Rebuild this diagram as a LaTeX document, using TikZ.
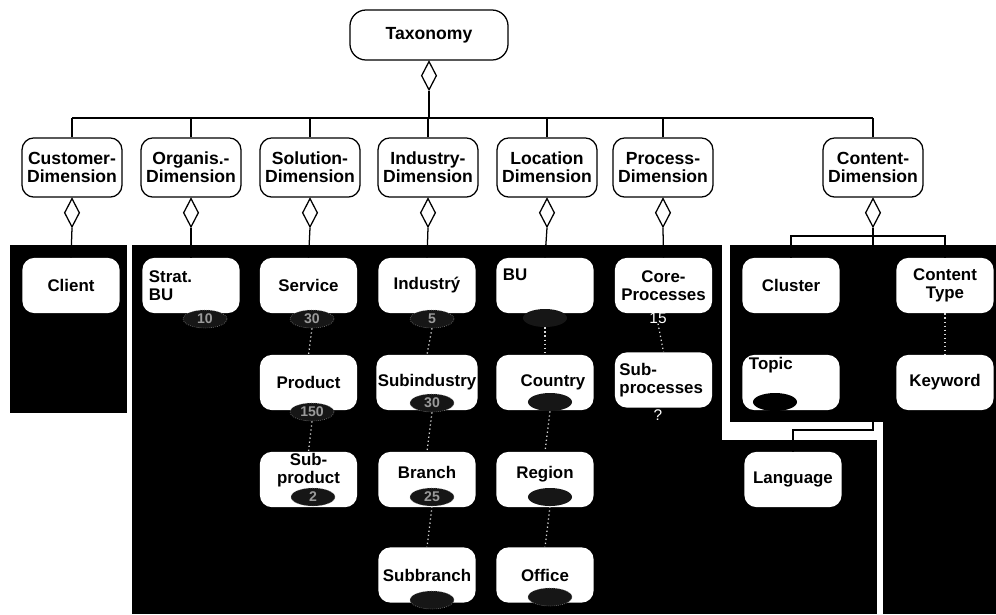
\documentclass[tikz,border=0pt]{standalone}
\usepackage{fontspec}
\setmainfont{Liberation Sans}
\usepackage{tikz}
\usetikzlibrary{shapes.geometric, positioning}
\definecolor{panelfill}{HTML}{000000}
\definecolor{cntfill}{HTML}{161616}
\definecolor{cnttext}{HTML}{9A9A9A}

\tikzset{
  dimbox/.style={draw, line width=0.9pt, rounded corners=0.3cm, fill=white,
    minimum width=2.5cm, minimum height=1.48cm, align=center, inner sep=1pt,
    font=\bfseries\fontsize{12.5}{13}\selectfont},
  catbox/.style={fill=white, rounded corners=0.3cm,
    minimum width=2.43cm, minimum height=1.38cm, align=center, inner sep=1pt,
    font=\bfseries\fontsize{12}{13}\selectfont},
  agg/.style={diamond, draw, fill=white, line width=0.9pt, inner sep=0pt,
    minimum width=0.38cm, minimum height=0.72cm},
  cnt/.style={ellipse, fill=cntfill, draw=cnttext, densely dotted, inner sep=0pt,
    minimum width=1.1cm, minimum height=0.45cm, text=cnttext,
    font=\bfseries\fontsize{10}{10}\selectfont},
  cntplain/.style={text=white, inner sep=0pt, font=\fontsize{11}{11}\selectfont},
  rel/.style={line width=0.9pt},
  hint/.style={draw=gray!30, dotted, line width=0.9pt},
}

\begin{document}
\begin{tikzpicture}[x=0.025cm, y=-0.025cm]
\useasboundingbox (0,0) rectangle (996,614);
%% panels behind the category boxes
\fill[panelfill] (10,245) rectangle (127,413);
\fill[panelfill] (132,245) rectangle (722,614);
\fill[panelfill] (722,440) rectangle (877,614);
\fill[panelfill] (730,245) rectangle (996,422);
\fill[panelfill] (883,422) rectangle (996,614);
\coordinate (ptop) at (0,245);

%% root
\node[dimbox, minimum width=3.95cm, minimum height=1.25cm, rounded corners=0.4cm] (tax) at (429,35) {Taxonomy};
\node[agg, below=0pt of tax] (tax-d) {};
\coordinate (bar) at (429,118);
\draw[rel] (tax-d.south) -- (bar);

%% dimensions
\foreach \nm/\xc/\lbl in {cus/72/Customer-\\Dimension, org/191/Organis.-\\Dimension,
    sol/310/Solution-\\Dimension, ind/428/Industry-\\Dimension,
    loc/547/Location\\Dimension, pro/663/Process-\\Dimension, con/873/Content-\\Dimension}{
  \node[dimbox] (\nm) at (\xc,167.5) {\lbl};
  \node[agg, below=0pt of \nm] (\nm-d) {};
  \draw[rel] (\nm.north) -- (\nm.north |- bar);
}
\draw[rel] (cus.north |- bar) -- (con.north |- bar);

%% customer / organisation
\node[catbox] (cli) at (71,285.5) {Client};
\node[catbox, align=left, text width=2.1cm] (sbu) at (191,285.5) {Strat.\\BU};
\node[cnt] (sbu-n) at (205,319) {10};
\draw[rel] (cus-d.south) -- (cli.north);
\draw[rel] (org-d.south) -- (sbu.north);

%% solution
\node[catbox] (srv) at (308.5,285.5) {Service};
\node[catbox] (prd) at (308.5,382.5) {Product};
\node[catbox, text depth=0.55cm] (sub) at (308.5,479.5) {Sub-\\product};
\node[cnt] (srv-n) at (312,319) {30};
\node[cnt] (prd-n) at (312,412) {150};
\node[cnt] (sub-n) at (313,497) {2};
\draw[rel] (sol-d.south) -- (srv.north);
\draw[hint] (srv-n.south) -- (prd.north);
\draw[hint] (prd-n.south) -- (sub.north);

%% industry
\node[catbox] (inm) at (427,285.5) {Industrý};
\node[catbox] (sin) at (427,382.5) {Subindustry};
\node[catbox, text depth=0.35cm] (brc) at (427,479.5) {Branch};
\node[catbox] (sbr) at (427,575) {Subbranch};
\node[cnt] (inm-n) at (432,319) {5};
\node[cnt] (sin-n) at (432,403) {30};
\node[cnt] (brc-n) at (432,497) {25};
\node[cnt] (sbr-n) at (432,600) {};
\draw[rel] (ind-d.south) -- (inm.north);
\draw[hint] (inm-n.south) -- (sin.north);
\draw[hint] (sin-n.south) -- (brc.north);
\draw[hint] (brc-n.south) -- (sbr.north);

%% location
\node[catbox, align=left, text width=2.1cm, text depth=0.55cm] (lbu) at (545,285.5) {BU};
\node[catbox] (cty) at (545,382.5) {\hspace*{0.4cm}Country};
\node[catbox, text depth=0.35cm] (rgn) at (545,479.5) {Region};
\node[catbox] (ofc) at (545,575) {Office};
\node[cnt, draw=none] (lbu-n) at (545,318) {};
\node[cnt, draw=none] (cty-n) at (550,402) {};
\node[cnt, draw=none] (rgn-n) at (550,497) {};
\node[cnt] (ofc-n) at (550,597) {};
\draw[rel] (loc-d.south) -- (lbu.north);
\draw[hint] (lbu-n.south) -- (cty.north);
\draw[hint] (cty-n.south) -- (rgn.north);
\draw[hint] (rgn-n.south) -- (ofc.north);

%% process
\node[catbox] (cpr) at (663.5,285.5) {Core-\\Processes};
\node[catbox, align=left, text width=2.2cm] (spr) at (663.5,380) {Sub-\\processes};
\node[cntplain] (cpr-n) at (658,318) {15};
\node[cntplain] (spr-n) at (658,415) {?};
\draw[rel] (pro-d.south) -- (cpr.north);
\draw[hint] (cpr-n.south) -- (spr.north);

%% content
\node[catbox] (clu) at (791,285.5) {Cluster};
\node[catbox] (cty2) at (945,285.5) {Content\\Type};
\node[catbox, align=left, text width=2.1cm, text depth=0.95cm] (tpc) at (791,382.5) {Topic};
\node[catbox] (kwd) at (945,382.5) {Keyword};
\node[catbox] (lng) at (793,479.5) {Language};
\node[cnt, draw=none, fill=black] (tpc-n) at (775,402) {};
\coordinate (cbar) at (873,236);
\coordinate (lbend) at (873,430);
\draw[rel] (con-d.south) -- (lbend) -| (lng.north);
\draw[rel] (clu.north) |- (cbar) -| (cty2.north);
\draw[hint] (cty2.south) -- (kwd.north);
\end{tikzpicture}
\end{document}
